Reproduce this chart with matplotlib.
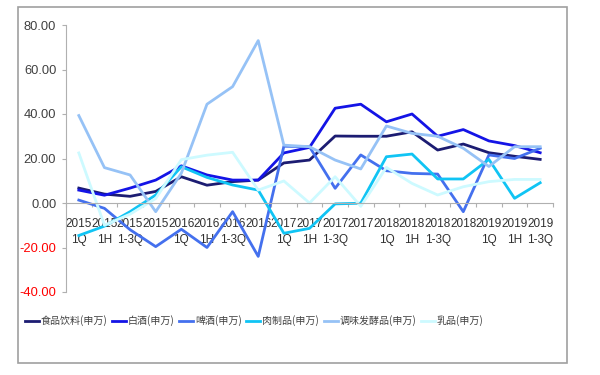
import matplotlib
matplotlib.use("Agg")
import matplotlib.pyplot as plt
from matplotlib.patches import Rectangle
import numpy as np

plt.rcParams['font.family'] = ['Liberation Sans', 'Noto Sans CJK SC', 'DejaVu Sans']

years = ["2015", "2015", "2015", "2015", "2016", "2016", "2016", "2016",
         "2017", "2017", "2017", "2017", "2018", "2018", "2018", "2018",
         "2019", "2019", "2019"]
periods = ["1Q", "1H", "1-3Q", "", "1Q", "1H", "1-3Q", "",
           "1Q", "1H", "1-3Q", "", "1Q", "1H", "1-3Q", "",
           "1Q", "1H", "1-3Q"]

series_names = ["食品饮料(申万)", "白酒(申万)", "啤酒(申万)", "肉制品(申万)", "调味发酵品(申万)", "乳品(申万)"]

food_bev = [6.7, 4.0, 3.0, 5.2, 11.8, 8.0, 9.6, 10.3, 18.0, 19.3, 30.1, 30.0, 30.0, 32.0, 23.8, 26.5, 22.6, 21.0, 19.6]
baijiu = [5.8, 3.5, 6.7, 10.3, 16.7, 12.6, 10.3, 10.3, 22.5, 25.0, 42.6, 44.4, 36.5, 40.0, 30.0, 33.0, 27.9, 25.8, 22.6]
beer = [1.3, -2.4, -12.0, -19.6, -11.8, -20.0, -3.9, -24.0, 25.5, 25.3, 6.6, 21.6, 14.5, 13.3, 13.0, -3.9, 21.6, 20.0, 24.6]
meat = [-14.6, -10.4, -3.9, 3.6, 16.3, 11.5, 8.1, 5.8, -13.6, -11.4, -0.4, -0.1, 20.8, 22.0, 10.8, 10.8, 19.6, 2.1, 9.1]
condiment = [39.3, 15.9, 12.6, -3.9, 13.4, 44.4, 52.3, 73.0, 26.0, 25.3, 19.3, 15.3, 34.6, 31.3, 30.0, 24.6, 16.4, 25.3, 25.3]
dairy = [22.5, -10.0, -5.0, 2.0, 19.5, 21.5, 22.8, 5.8, 9.9, 0.0, 11.8, -1.5, 16.0, 8.8, 3.6, 7.3, 9.6, 10.6, 10.6]

y_ticks = [-40, -20, 0, 20, 40, 60, 80]

colors = ["#1c1c72", "#1414e6", "#4470ee", "#10c4f4", "#96c2f6", "#cdfaff"]
data = [food_bev, baijiu, beer, meat, condiment, dairy]

fig = plt.figure(figsize=(6, 3.75), dpi=100)
fig.add_artist(Rectangle((18 / 600, 1 - 363 / 375), (567 - 18) / 600, (363 - 7) / 375,
                         transform=fig.transFigure, fill=False, edgecolor="#a0a0a0", linewidth=1.2))

ax = fig.add_axes([66 / 600, 1 - 292 / 375, (553 - 66) / 600, (292 - 25) / 375])
x = np.arange(len(years))
for vals, c, name in zip(data, colors, series_names):
    ax.plot(x, vals, color=c, lw=2.0, label=name)

ax.set_xlim(-0.5, len(years) - 0.5)
ax.set_ylim(-40, 80)
ax.set_yticks(y_ticks)
ax.set_yticklabels([f"{v:.2f}" for v in y_ticks], fontsize=9.3)
for lbl, v in zip(ax.get_yticklabels(), y_ticks):
    lbl.set_color("#ff0000" if v < 0 else "#404040")

for s in ["top", "right"]:
    ax.spines[s].set_visible(False)
ax.spines["left"].set_color("#b0b0b0")
ax.spines["bottom"].set_color("#b0b0b0")
ax.spines["bottom"].set_position(("data", 0))

ax.set_xticks(np.arange(-0.5, len(years), 1.0))
ax.set_xticklabels([])
ax.set_xticks(x, minor=True)
ax.set_xticklabels([f"{yy}\n{pp}" for yy, pp in zip(years, periods)], minor=True,
                   fontsize=8.5, color="#303030", linespacing=1.45, va="top")
ax.tick_params(axis="x", which="major", length=3, color="#b0b0b0", direction="out")
ax.tick_params(axis="x", which="minor", length=0, pad=11)
ax.tick_params(axis="y", length=3, color="#b0b0b0", pad=4)

fig.legend(loc="center", bbox_to_anchor=(254 / 600, 1 - 321 / 375), ncol=6, frameon=False,
           handlelength=1.4, handletextpad=0.2, columnspacing=0.45,
           prop={"family": ["Noto Sans CJK SC"], "size": 7.2}, labelcolor="#404040")

fig.savefig("out.png", dpi=100)
